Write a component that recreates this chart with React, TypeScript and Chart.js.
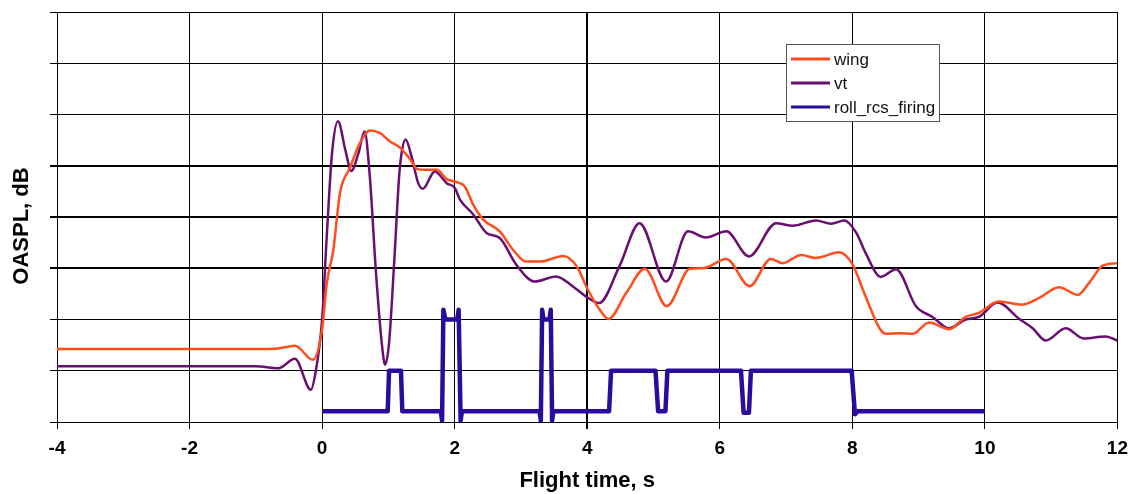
import React, { useEffect, useRef } from "react";
import { Chart, registerables } from "chart.js";

Chart.register(...registerables);

// Flight time (s) and OASPL (grid units, no labelled values)
const wingT = [-4, -1, -0.7, -0.41, -0.14, 0, 0.07, 0.17, 0.27, 0.42, 0.57, 0.72, 0.87, 1.02, 1.18, 1.33, 1.43, 1.55, 1.73, 1.88, 2.0, 2.15, 2.28, 2.43, 2.68, 2.88, 3.08, 3.29, 3.64, 3.84, 4.01, 4.19, 4.32, 4.59, 4.87, 5.2, 5.55, 5.75, 6.1, 6.45, 6.77, 6.95, 7.23, 7.45, 7.8, 8.0, 8.2, 8.41, 8.51, 8.71, 8.91, 9.16, 9.46, 9.71, 9.91, 10.21, 10.56, 10.82, 11.12, 11.4, 11.57, 11.77, 12];
const wingV = [1.425, 1.425, 1.43, 1.49, 1.215, 1.8, 2.7, 3.36, 4.47, 4.96, 5.44, 5.69, 5.64, 5.48, 5.35, 5.12, 4.94, 4.92, 4.92, 4.74, 4.69, 4.6, 4.24, 3.95, 3.72, 3.36, 3.13, 3.13, 3.24, 3.04, 2.58, 2.19, 2.01, 2.52, 2.99, 2.26, 2.99, 3.0, 3.18, 2.65, 3.18, 3.1, 3.26, 3.2, 3.31, 3.08, 2.45, 1.83, 1.72, 1.73, 1.72, 1.94, 1.81, 2.05, 2.13, 2.35, 2.29, 2.42, 2.63, 2.48, 2.71, 3.04, 3.1];

const vtT = [-4, -1, -0.66, -0.41, -0.17, -0.1, 0, 0.07, 0.15, 0.24, 0.35, 0.44, 0.55, 0.64, 0.72, 0.81, 0.9, 0.95, 1.01, 1.09, 1.17, 1.26, 1.35, 1.45, 1.52, 1.7, 1.88, 2.0, 2.08, 2.28, 2.48, 2.68, 2.93, 3.21, 3.53, 3.78, 3.98, 4.18, 4.49, 4.79, 5.19, 5.52, 5.79, 6.1, 6.44, 6.85, 7.1, 7.45, 7.68, 7.88, 8.06, 8.2, 8.43, 8.66, 8.96, 9.21, 9.46, 9.71, 9.91, 10.19, 10.52, 10.72, 10.92, 11.22, 11.49, 11.82, 12];
const vtV = [1.09, 1.09, 1.05, 1.235, 0.63, 0.96, 2.0, 3.62, 5.25, 5.87, 5.31, 4.9, 5.25, 5.67, 4.79, 2.97, 1.54, 1.12, 1.54, 3.17, 4.92, 5.51, 5.18, 4.66, 4.55, 4.89, 4.66, 4.57, 4.34, 4.05, 3.69, 3.59, 3.07, 2.74, 2.84, 2.65, 2.45, 2.32, 3.05, 3.88, 2.74, 3.72, 3.6, 3.72, 3.23, 3.88, 3.83, 3.93, 3.87, 3.93, 3.69, 3.3, 2.83, 2.98, 2.26, 2.05, 1.83, 2.0, 2.05, 2.33, 2.01, 1.83, 1.59, 1.83, 1.63, 1.67, 1.59];

const rcsT = [0, 0.99, 1.01, 1.19, 1.21, 1.79, 1.81, 1.83, 1.86, 2.04, 2.06, 2.09, 2.11, 3.28, 3.3, 3.32, 3.34, 3.43, 3.45, 3.47, 3.49, 4.33, 4.36, 5.03, 5.07, 5.18, 5.21, 6.32, 6.36, 6.44, 6.47, 7.99, 8.04, 8.08, 10.0];
const rcsV = [0.21, 0.21, 1.0, 1.0, 0.21, 0.21, 0.03, 2.19, 2.0, 2.0, 2.19, 0.03, 0.21, 0.21, 0.03, 2.19, 2.0, 2.0, 2.19, 0.03, 0.21, 0.21, 1.0, 1.0, 0.21, 0.21, 1.0, 1.0, 0.18, 0.18, 1.0, 1.0, 0.15, 0.21, 0.21];

const seriesNames = ["wing", "vt", "roll_rcs_firing"];
const seriesColors = ["#FF4D1C", "#6A0F72", "#2A0C9C"];

const xTitle = "Flight time, s";
const yTitle = "OASPL, dB";

const pts = (t: number[], v: number[]) => t.map((x, i) => ({ x, y: v[i] }));

const FONT = "'Liberation Sans', Arial, Helvetica, sans-serif";

export default function App() {
  const ref = useRef<HTMLCanvasElement>(null);

  useEffect(() => {
    if (!ref.current) return;

    const overlay = {
      id: "overlay",
      afterDraw(chart: any) {
        const ctx = chart.ctx as CanvasRenderingContext2D;
        ctx.save();
        // y axis title
        ctx.translate(22, 226);
        ctx.rotate(-Math.PI / 2);
        ctx.fillStyle = "#000";
        ctx.font = `bold 22px ${FONT}`;
        ctx.textAlign = "center";
        ctx.textBaseline = "middle";
        ctx.fillText(yTitle, 0, 0);
        ctx.restore();

        // legend box
        ctx.save();
        const bx = 786, by = 44, bw = 153, bh = 77;
        ctx.fillStyle = "#fff";
        ctx.fillRect(bx, by, bw, bh);
        ctx.strokeStyle = "#555";
        ctx.lineWidth = 1;
        ctx.strokeRect(bx + 0.5, by + 0.5, bw, bh);
        const rows = [59, 83, 107];
        ctx.font = `17px ${FONT}`;
        ctx.textBaseline = "middle";
        ctx.textAlign = "left";
        seriesNames.forEach((name, i) => {
          ctx.strokeStyle = seriesColors[i];
          ctx.lineWidth = 3;
          ctx.beginPath();
          ctx.moveTo(791, rows[i]);
          ctx.lineTo(830, rows[i]);
          ctx.stroke();
          ctx.fillStyle = "#111";
          ctx.fillText(name, 834, rows[i] + 1);
        });
        ctx.restore();
      },
    };

    const chart = new Chart(ref.current, {
      type: "line",
      data: {
        datasets: [
          {
            label: seriesNames[0],
            data: pts(wingT, wingV),
            borderColor: seriesColors[0],
            borderWidth: 2.5,
            pointRadius: 0,
            cubicInterpolationMode: "monotone",
          },
          {
            label: seriesNames[1],
            data: pts(vtT, vtV),
            borderColor: seriesColors[1],
            borderWidth: 2.5,
            pointRadius: 0,
            cubicInterpolationMode: "monotone",
          },
          {
            label: seriesNames[2],
            data: pts(rcsT, rcsV),
            borderColor: seriesColors[2],
            borderWidth: 4.5,
            borderJoinStyle: "round",
            borderCapStyle: "butt",
            pointRadius: 0,
            tension: 0,
          },
        ],
      },
      options: {
        animation: false,
        responsive: true,
        maintainAspectRatio: false,
        layout: { padding: { top: 12, right: 17, left: 0, bottom: 0 } },
        plugins: {
          legend: { display: false },
          tooltip: { enabled: false },
        },
        scales: {
          x: {
            type: "linear",
            min: -4,
            max: 12,
            ticks: {
              stepSize: 2,
              color: "#000",
              padding: 8,
              font: { family: FONT, size: 19, weight: "bold" },
            },
            grid: {
              color: "#000",
              lineWidth: (c: any) => (c.tick && c.tick.value === 4 ? 2 : 1),
              tickLength: 7,
            },
            border: { color: "#000", width: 1 },
            title: {
              display: true,
              text: xTitle,
              color: "#000",
              padding: { top: 0, bottom: 0 },
              font: { family: FONT, size: 22, weight: "bold" },
            },
            afterFit: (s: any) => {
              s.height = 72;
            },
          },
          y: {
            type: "linear",
            min: 0,
            max: 8,
            ticks: { stepSize: 1, display: false },
            grid: {
              color: "#000",
              lineWidth: (c: any) =>
                c.tick && c.tick.value >= 3 && c.tick.value <= 5 ? 2 : 1,
              tickLength: 7,
            },
            border: { color: "#000", width: 1 },
            afterFit: (s: any) => {
              s.width = 57;
            },
          },
        },
      },
      plugins: [overlay],
    });

    return () => chart.destroy();
  }, []);

  return (
    <div style={{ position: "absolute", left: 0, top: 0, width: 1136, height: 494, background: "#fff" }}>
      <canvas ref={ref} />
    </div>
  );
}
